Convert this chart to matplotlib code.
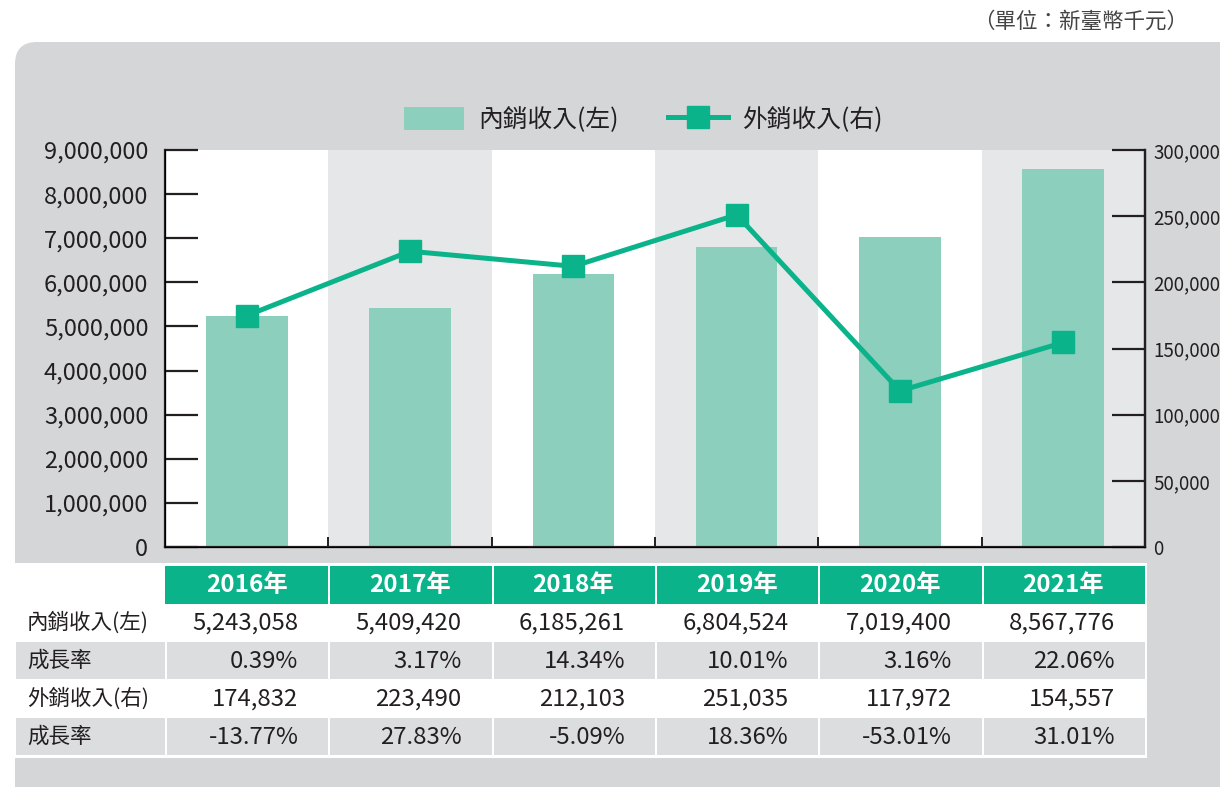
import numpy as np
import matplotlib
matplotlib.use("Agg")
import matplotlib.pyplot as plt
from matplotlib.patches import FancyBboxPatch, Rectangle
from matplotlib.lines import Line2D
from matplotlib.ticker import FuncFormatter

plt.rcParams['font.family'] = ['Noto Sans CJK TC', 'DejaVu Sans']

years = ['2016年', '2017年', '2018年', '2019年', '2020年', '2021年']
domestic = [5243058, 5409420, 6185261, 6804524, 7019400, 8567776]
domestic_growth = ['0.39%', '3.17%', '14.34%', '10.01%', '3.16%', '22.06%']
export = [174832, 223490, 212103, 251035, 117972, 154557]
export_growth = ['-13.77%', '27.83%', '-5.09%', '18.36%', '-53.01%', '31.01%']
row_labels = ['內銷收入(左)', '成長率', '外銷收入(右)', '成長率']

GREEN = '#0bb38b'
BAR = '#8ccfbd'
PANEL = '#d5d6d8'
ROWGRAY = '#dcdddf'
COLGRAY = '#e6e7e8'
TXT = '#231f20'

W, H = 1220, 787
fig = plt.figure(figsize=(W / 100, H / 100), dpi=100)
fig.patch.set_facecolor('white')

# background drawing layer in pixel units
bg = fig.add_axes([0, 0, 1, 1], zorder=-1)
bg.set_xlim(0, W)
bg.set_ylim(H, 0)
bg.axis('off')
bg.add_patch(FancyBboxPatch((15, 42), 1260, 790, boxstyle='round,pad=0,rounding_size=22',
                            fc=PANEL, ec='none'))
bg.text(1188, 22, '（單位：新臺幣千元）', ha='right', va='center', fontsize=15.5, color='#444444')

# main chart
L, R, T, B = 165, 1145, 150, 547
ax = fig.add_axes([L / W, (H - B) / H, (R - L) / W, (B - T) / H])
ax.set_facecolor('white')
x = np.arange(len(years))
for i in x:
    if i % 2 == 1:
        ax.axvspan(i - 0.5, i + 0.5, color=COLGRAY, lw=0, zorder=0)
ax.bar(x, domestic, width=0.5, color=BAR, zorder=2)
ax.set_xlim(-0.5, len(years) - 0.5)
ax.set_ylim(0, 9000000)
ax.set_yticks(np.arange(0, 9000001, 1000000))
ax.yaxis.set_major_formatter(FuncFormatter(lambda v, p: f'{int(v):,}'))
ax.set_xticks(np.arange(0.5, len(years) - 0.5, 1))
ax.set_xticklabels([])
ax.tick_params(axis='y', direction='in', length=24, width=1.6, color=TXT,
               labelsize=17, labelcolor=TXT, pad=12)
ax.tick_params(axis='x', direction='in', length=7, width=1.4, color=TXT)
ax.spines['top'].set_visible(False)
for s in ['left', 'bottom', 'right']:
    ax.spines[s].set_linewidth(1.6)
    ax.spines[s].set_color(TXT)

ax2 = ax.twinx()
ax2.plot(x, export, color=GREEN, lw=3.6, marker='s', markersize=16, zorder=3)
ax2.set_ylim(0, 300000)
ax2.set_yticks(np.arange(0, 300001, 50000))
ax2.yaxis.set_major_formatter(FuncFormatter(lambda v, p: f'{int(v):,}'))
ax2.tick_params(axis='y', direction='in', length=24, width=1.6, color=TXT,
                labelsize=13.5, labelcolor=TXT, pad=6)
ax2.spines['top'].set_visible(False)
ax2.spines['right'].set_linewidth(1.6)
ax2.spines['right'].set_color(TXT)

handles = [Rectangle((0, 0), 1, 1, fc=BAR, ec='none'),
           Line2D([], [], color=GREEN, lw=3.6, marker='s', markersize=16)]
fig.legend(handles, ['內銷收入(左)', '外銷收入(右)'], loc='center', bbox_to_anchor=(643 / W, 1 - 120 / H),
           ncol=2, frameon=False, fontsize=17.8, handlelength=2.45, handleheight=1.0,
           columnspacing=2.0, handletextpad=0.55, labelcolor=TXT)

# table
colw = (R - L) / len(years)
bounds = [L + i * colw for i in range(len(years) + 1)]
bg.add_patch(Rectangle((15, 563), 1132, 195, fc='white', ec='none'))
top, hh, rh = 566, 38, 38
for i, yr in enumerate(years):
    x0 = bounds[i] + (2 if i > 0 else 0)
    bg.add_patch(Rectangle((x0, top), bounds[i + 1] - x0, hh, fc=GREEN, ec='none'))
    bg.text((bounds[i] + bounds[i + 1]) / 2, top + hh / 2, yr, ha='center', va='center',
            color='white', fontsize=17.5, fontweight='bold')

rows = [[f'{v:,}' for v in domestic], domestic_growth, [f'{v:,}' for v in export], export_growth]
for r, (lab, vals) in enumerate(zip(row_labels, rows)):
    y0 = top + hh + r * rh
    if r % 2 == 1:
        bg.add_patch(Rectangle((16, y0), L - 16, rh - 1, fc=ROWGRAY, ec='none'))
        for i in range(len(years)):
            bg.add_patch(Rectangle((bounds[i] + 2, y0), colw - 2, rh - 1, fc=ROWGRAY, ec='none'))
    bg.text(27, y0 + rh / 2, lab, ha='left', va='center', fontsize=15.5, color=TXT)
    for i, v in enumerate(vals):
        bg.text(bounds[i + 1] - 30, y0 + rh / 2, v, ha='right', va='center', fontsize=17.2, color=TXT)

fig.savefig('out.png', dpi=100)
